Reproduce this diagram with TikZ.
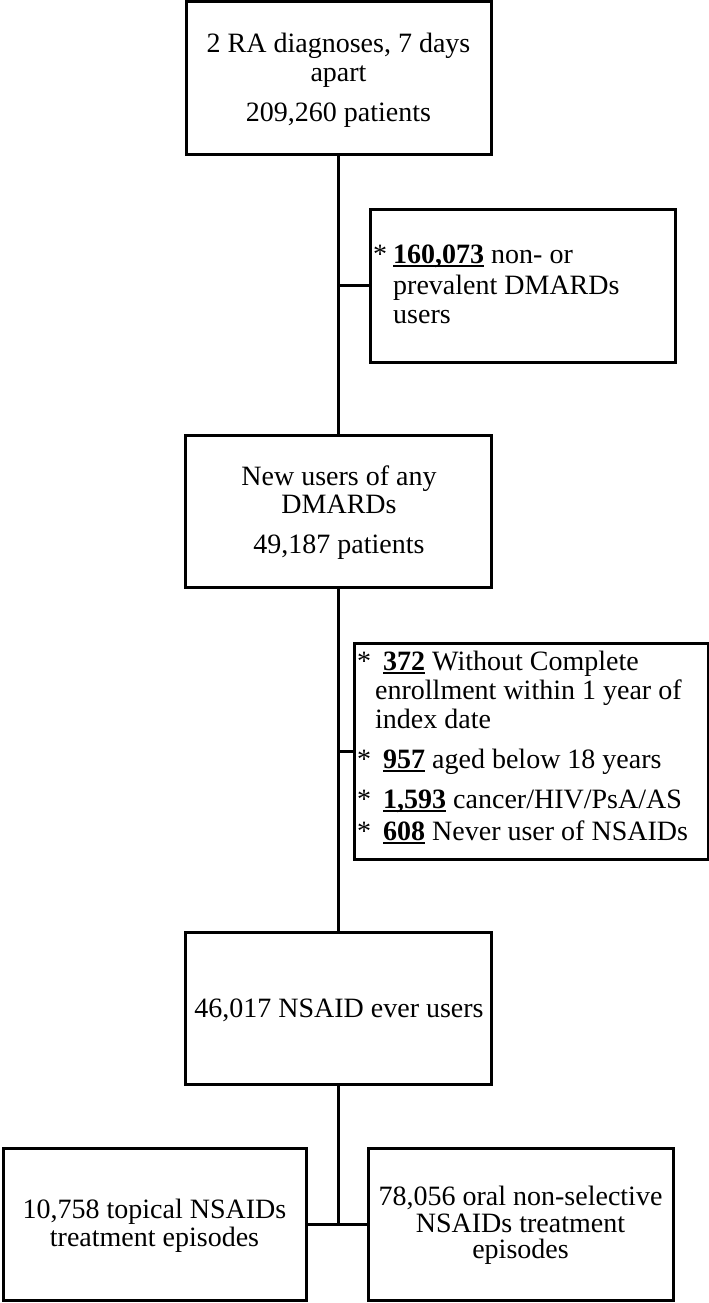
\documentclass[tikz,border=0pt]{standalone}
\usepackage{fontspec}
\setmainfont{Liberation Serif}
\newcommand\ulbold[1]{\setbox0\hbox{\textbf{#1}}\rlap{\rule[-3.5pt]{\wd0}{2pt}}\box0\relax}
\begin{document}
\begin{tikzpicture}[x=1pt,y=-1pt,
  box/.style={draw=black,line width=3pt,rectangle,inner sep=0pt},
  txt/.style={inner sep=0pt,font=\fontsize{28}{30}\selectfont},
  conn/.style={draw=black,line width=3pt}]
\useasboundingbox (0,0) rectangle (709,1303);
% boxes
\node[box,minimum width=305pt,minimum height=152pt] (b1) at (338.5,78) {};
\node[box,minimum width=305pt,minimum height=153pt] (b2) at (522.5,285.5) {};
\node[box,minimum width=306pt,minimum height=152pt] (b3) at (338.5,511) {};
\node[box,minimum width=354pt,minimum height=216pt] (b4) at (531,751) {};
\node[box,minimum width=306pt,minimum height=152pt] (b5) at (338.5,1008) {};
\node[box,minimum width=303pt,minimum height=152pt] (b6) at (154.5,1224) {};
\node[box,minimum width=305pt,minimum height=152pt] (b7) at (520.5,1224) {};
% connectors
\draw[conn] (b1.south) -- (b3.north);
\draw[conn] (b2.west -| b1.south) -- (b2.west);
\draw[conn] (b3.south) -- (b5.north);
\draw[conn] (b4.west -| b3.south) -- (b4.west);
\draw[conn] (b5.south) -- (b5.south |- b6.east);
\draw[conn] (b6.east) -- (b7.west);
% box 1 text
\node[txt,anchor=base] (t1a) at (338.5,53) {2 RA diagnoses, 7 days};
\node[txt,anchor=base] (t1b) at (338.5,82) {apart};
\node[txt,anchor=base] (t1c) at (338.5,122) {209,260 patients};
% box 2 text
\node[txt,anchor=base west] (t2s) at (373,263) {*};
\node[txt,anchor=base west] (t2a) at (393,263) {\ulbold{160,073} non- or};
\node[txt,anchor=base west] (t2b) at (393,294) {prevalent DMARDs};
\node[txt,anchor=base west] (t2c) at (393,323) {users};
% box 3 text
\node[txt,anchor=base] (t3a) at (339,485) {New users of any};
\node[txt,anchor=base] (t3b) at (339,513) {DMARDs};
\node[txt,anchor=base] (t3c) at (339,553) {49,187 patients};
% box 4 text
\node[txt,anchor=base west] (t4s1) at (357,670) {*};
\node[txt,anchor=base west] (t4a) at (383,670) {\ulbold{372} Without Complete};
\node[txt,anchor=base west] (t4b) at (375,699) {enrollment within 1 year of};
\node[txt,anchor=base west] (t4c) at (375,728) {index date};
\node[txt,anchor=base west] (t4s2) at (357,768) {*};
\node[txt,anchor=base west] (t4d) at (383,768) {\ulbold{957} aged below 18 years};
\node[txt,anchor=base west] (t4s3) at (357,808) {*};
\node[txt,anchor=base west] (t4e) at (383,808) {\ulbold{1,593} cancer/HIV/PsA/AS};
\node[txt,anchor=base west] (t4s4) at (357,840) {*};
\node[txt,anchor=base west] (t4f) at (383,840) {\ulbold{608} Never user of NSAIDs};
% box 5 text
\node[txt,anchor=base] (t5) at (339,1017) {46,017 NSAID ever users};
% box 6 text
\node[txt,anchor=base] (t6a) at (154.5,1218) {10,758 topical NSAIDs};
\node[txt,anchor=base] (t6b) at (154.5,1246) {treatment episodes};
% box 7 text
\node[txt,anchor=base] (t7a) at (520.5,1205) {78,056 oral non-selective};
\node[txt,anchor=base] (t7b) at (520.5,1232) {NSAIDs treatment};
\node[txt,anchor=base] (t7c) at (520.5,1258) {episodes};
\end{tikzpicture}
\end{document}
